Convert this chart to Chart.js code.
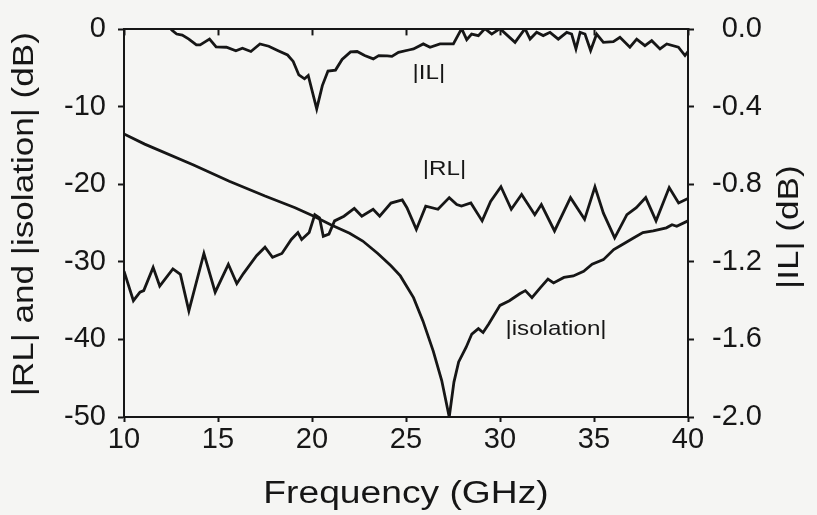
<!DOCTYPE html>
<html>
<head>
<meta charset="utf-8">
<script src="https://cdn.jsdelivr.net/npm/chart.js@4.4.0/dist/chart.umd.min.js"></script>
<style>
  html, body { margin: 0; padding: 0; background: #f5f5f3; }
  #wrap { width: 817px; height: 515px; }
</style>
</head>
<body>
<div id="wrap"><canvas id="chart" width="817" height="515"></canvas></div>
<script>
// Tick values
const xTicks = [10, 15, 20, 25, 30, 35, 40];
const leftTicks = [0, -10, -20, -30, -40, -50];
const rightTicks = [0.0, -0.4, -0.8, -1.2, -1.6, -2.0];

// |RL| (left axis, dB)
const rlFreq = [10.0, 10.5, 10.85, 11.05, 11.55, 11.9, 12.6, 13.0, 13.45, 14.25, 14.85, 15.55, 16.0, 16.35, 17.05, 17.5, 17.9, 18.4, 18.9, 19.25, 19.45, 19.85, 20.15, 20.4, 20.6, 20.9, 21.2, 21.7, 22.25, 22.65, 23.25, 23.6, 24.2, 24.8, 25.05, 25.55, 26.05, 26.7, 27.3, 27.7, 27.95, 28.45, 29.05, 29.5, 30.05, 30.6, 31.15, 31.85, 32.2, 32.9, 33.75, 34.5, 35.05, 35.5, 36.1, 36.75, 37.25, 37.75, 38.3, 39.0, 39.5, 40.0];
const rlDb = [-31.2, -35.0, -33.9, -33.7, -30.7, -33.1, -30.9, -31.6, -36.3, -28.9, -33.9, -30.3, -32.8, -31.5, -29.2, -28.1, -29.4, -28.9, -27.1, -26.2, -27.1, -26.2, -23.9, -24.3, -26.7, -26.4, -24.7, -24.1, -23.1, -24.1, -23.2, -24.1, -22.4, -22.0, -23.0, -25.8, -22.8, -23.2, -21.7, -22.6, -22.8, -22.4, -24.7, -22.2, -20.3, -23.2, -21.3, -23.9, -22.6, -26.0, -21.7, -24.5, -20.3, -23.7, -26.9, -23.9, -23.0, -21.7, -24.7, -20.4, -22.4, -21.8];

// |isolation| (left axis, dB)
const isoFreq = [10.0, 11.1, 13.7, 15.6, 17.5, 19.1, 20.1, 21.0, 22.0, 22.7, 23.5, 24.2, 24.7, 25.4, 25.9, 26.45, 26.9, 27.3, 27.55, 27.8, 28.2, 28.5, 28.85, 29.1, 29.4, 30.0, 30.5, 31.05, 31.35, 31.7, 32.15, 32.55, 32.85, 33.4, 33.9, 34.45, 34.9, 35.5, 36.05, 36.4, 37.1, 37.6, 38.15, 38.85, 39.15, 39.4, 40.0];
const isoDb = [-13.5, -14.8, -17.5, -19.6, -21.5, -23.0, -24.1, -25.2, -26.3, -27.3, -28.9, -30.5, -31.8, -34.6, -37.6, -41.5, -45.3, -50.0, -45.5, -42.9, -41.0, -39.3, -38.6, -39.1, -38.0, -35.6, -35.0, -34.1, -33.7, -34.6, -33.3, -32.2, -32.7, -32.0, -31.8, -31.2, -30.3, -29.7, -28.4, -27.9, -26.9, -26.2, -26.0, -25.6, -25.2, -25.4, -24.7];

// |IL| (right axis, dB)
const ilFreq = [12.5, 12.8, 13.1, 13.45, 13.85, 14.05, 14.35, 14.55, 14.9, 15.45, 15.95, 16.3, 16.75, 17.23, 17.7, 18.2, 18.7, 19.0, 19.3, 19.6, 19.8, 20.25, 20.55, 20.85, 21.25, 21.6, 22.05, 22.4, 22.8, 23.26, 23.55, 24.0, 24.25, 24.6, 25.2, 25.4, 25.92, 26.28, 26.81, 27.52, 27.96, 28.23, 28.49, 28.85, 29.2, 29.56, 30.0, 30.8, 31.33, 31.6, 31.95, 32.3, 32.66, 33.1, 33.55, 33.81, 34.04, 34.26, 34.52, 34.82, 35.14, 35.5, 36.03, 36.38, 36.91, 37.27, 37.71, 38.07, 38.51, 38.87, 39.49, 39.84, 40.0];
const ilDb = [0.0, -0.024, -0.029, -0.05, -0.08, -0.08, -0.062, -0.05, -0.09, -0.092, -0.11, -0.097, -0.114, -0.075, -0.087, -0.11, -0.132, -0.165, -0.235, -0.255, -0.238, -0.41, -0.29, -0.215, -0.21, -0.155, -0.116, -0.114, -0.135, -0.152, -0.135, -0.137, -0.139, -0.118, -0.105, -0.101, -0.075, -0.092, -0.075, -0.075, 0.004, -0.053, -0.024, -0.032, 0.004, -0.024, 0.004, -0.067, 0.004, -0.05, -0.015, -0.032, -0.015, -0.05, -0.015, -0.024, -0.101, -0.015, -0.024, -0.109, -0.024, -0.067, -0.063, -0.041, -0.092, -0.05, -0.084, -0.058, -0.101, -0.075, -0.092, -0.135, -0.114];

// curve annotations, in data units (left axis)
const curveLabels = [
  { text: '|IL|', x: 26.22, y: -5.6 },
  { text: '|RL|', x: 27.05, y: -18.0 },
  { text: '|isolation|', x: 32.98, y: -38.7 }
];

const INK = '#161616';
const FONT = '"Liberation Sans", Arial, Helvetica, sans-serif';

const toPoints = (xs, ys) => xs.map((x, i) => ({ x: x, y: ys[i] }));
const fixTicks = list => scale => { scale.ticks = list.map(v => ({ value: v })); };

const textPlugin = {
  id: 'texts',
  afterDraw(chart) {
    const { ctx, chartArea, scales } = chart;
    const drawText = (text, x, y, size, stretch, angle) => {
      ctx.save();
      ctx.translate(x, y);
      ctx.rotate(angle);
      ctx.scale(stretch, 1);
      ctx.font = size + 'px ' + FONT;
      ctx.fillStyle = INK;
      ctx.textAlign = 'center';
      ctx.textBaseline = 'middle';
      ctx.fillText(text, 0, 0);
      ctx.restore();
    };
    curveLabels.forEach(l => {
      drawText(l.text, scales.x.getPixelForValue(l.x), scales.y.getPixelForValue(l.y), 21, 1.15, 0);
    });
    const midX = (chartArea.left + chartArea.right) / 2;
    const midY = (chartArea.top + chartArea.bottom) / 2;
    drawText('Frequency (GHz)', midX, 494, 31, 1.2, 0);
    drawText('|RL| and |isolation| (dB)', 25, midY - 9, 30, 1.17, -Math.PI / 2);
    drawText('|IL| (dB)', 790, midY + 4, 30, 1.17, -Math.PI / 2);
  }
};

const lineStyle = { borderColor: INK, borderWidth: 2.8, pointRadius: 0, tension: 0, fill: false };
const axisGrid = { drawOnChartArea: false, tickColor: INK, tickWidth: 2 };
const axisBorder = { color: INK, width: 2 };
const tickFont = { family: FONT, size: 29 };

new Chart(document.getElementById('chart').getContext('2d'), {
  type: 'line',
  data: {
    datasets: [
      Object.assign({ label: '|IL|', data: toPoints(ilFreq, ilDb), yAxisID: 'y2' }, lineStyle),
      Object.assign({ label: '|RL|', data: toPoints(rlFreq, rlDb), yAxisID: 'y' }, lineStyle),
      Object.assign({ label: '|isolation|', data: toPoints(isoFreq, isoDb), yAxisID: 'y' }, lineStyle)
    ]
  },
  options: {
    responsive: false,
    animation: false,
    layout: { padding: { left: 0, right: 55, top: 27, bottom: 0 } },
    plugins: { legend: { display: false }, tooltip: { enabled: false } },
    scales: {
      x: {
        type: 'linear', position: 'bottom', min: 10, max: 40,
        afterBuildTicks: fixTicks(xTicks),
        afterFit: s => { s.height = 98; },
        ticks: { color: INK, font: tickFont, padding: 1, maxRotation: 0 },
        grid: Object.assign({ tickLength: 5 }, axisGrid),
        border: axisBorder
      },
      xTop: {
        type: 'linear', position: 'top', min: 10, max: 40,
        afterBuildTicks: fixTicks(xTicks),
        afterFit: s => { s.height = 0; },
        ticks: { display: false },
        grid: Object.assign({ tickLength: -6 }, axisGrid),
        border: axisBorder
      },
      y: {
        position: 'left', min: -50, max: 0,
        afterBuildTicks: fixTicks(leftTicks),
        afterFit: s => { s.width = 124; },
        ticks: { color: INK, font: tickFont, padding: 12 },
        grid: Object.assign({ tickLength: 6 }, axisGrid),
        border: axisBorder
      },
      y2: {
        position: 'right', min: -2, max: 0,
        afterBuildTicks: fixTicks(rightTicks),
        afterFit: s => { s.width = 74; },
        ticks: {
          color: INK, font: tickFont, padding: 12, crossAlign: 'far',
          callback: v => Number(v).toFixed(1)
        },
        grid: Object.assign({ tickLength: 6 }, axisGrid),
        border: axisBorder
      }
    }
  },
  plugins: [textPlugin]
});
</script>
</body>
</html>
